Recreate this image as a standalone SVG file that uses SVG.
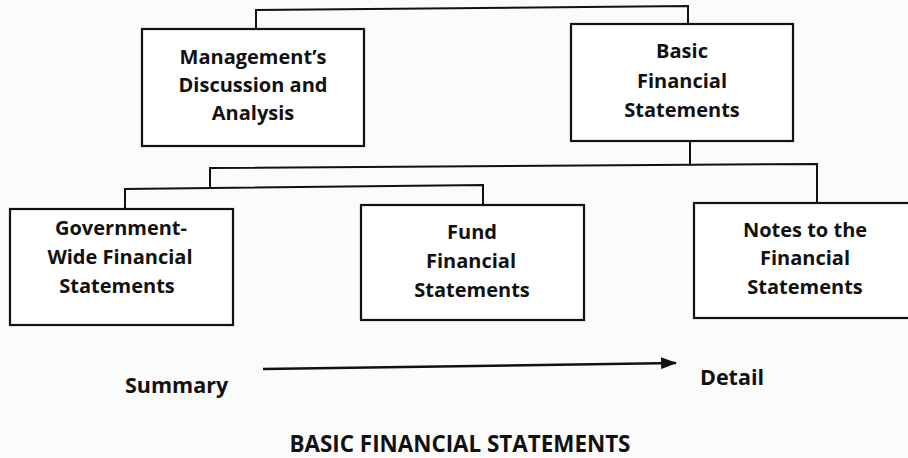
<svg xmlns="http://www.w3.org/2000/svg" width="908" height="458" viewBox="0 0 908 458">
<defs>
<style>
.box{fill:#fff;stroke:#111;stroke-width:2.2}
.ln{fill:none;stroke:#111;stroke-width:2;stroke-linecap:square}
.t{font-family:"Open Sans","Liberation Sans",sans-serif;font-weight:700;fill:#111;text-anchor:middle;font-size:20px}
.lbl{font-family:"Open Sans","Liberation Sans",sans-serif;font-weight:700;fill:#111;font-size:21.5px}
</style>
<marker id="ah" viewBox="0 0 15 11" refX="14" refY="5.5" markerWidth="6.4" markerHeight="4.7" markerUnits="strokeWidth" orient="auto">
<path d="M0,0 L15,5.5 L0,11 z" fill="#111"/>
</marker>
</defs>
<rect width="908" height="458" fill="#fbfbfb"/>
<g id="connectors">
<polyline class="ln" points="256,29 256,10 688,6 688,24"/>
<polyline class="ln" points="690,142 690,165"/>
<polyline class="ln" points="210,188 210,168 817,164 817,203"/>
<polyline class="ln" points="125,209 125,189 483,185 483,205"/>
<line x1="263" y1="369" x2="676" y2="363" stroke="#111" stroke-width="2.5" marker-end="url(#ah)"/>
</g>
<g id="mdna">
<rect class="box" x="142" y="29" width="222" height="117"/>
<text class="t" x="253" y="64">Management’s</text>
<text class="t" x="253" y="92">Discussion and</text>
<text class="t" x="253" y="120">Analysis</text>
</g>
<g id="bfs">
<rect class="box" x="571" y="24" width="222" height="117"/>
<text class="t" x="682" y="58">Basic</text>
<text class="t" x="682" y="88">Financial</text>
<text class="t" x="682" y="117">Statements</text>
</g>
<g id="gwfs">
<rect class="box" x="10" y="209" width="223" height="116"/>
<text class="t" x="121" y="235">Government-</text>
<text class="t" x="120" y="264">Wide Financial</text>
<text class="t" x="117" y="293">Statements</text>
</g>
<g id="ffs">
<rect class="box" x="361" y="205" width="223" height="115"/>
<text class="t" x="472" y="239">Fund</text>
<text class="t" x="471" y="268">Financial</text>
<text class="t" x="472" y="297">Statements</text>
</g>
<g id="notes">
<rect class="box" x="694" y="203" width="230" height="115"/>
<text class="t" x="805" y="237">Notes to the</text>
<text class="t" x="805" y="265">Financial</text>
<text class="t" x="805" y="294">Statements</text>
</g>
<g id="labels">
<text class="lbl" x="125" y="393">Summary</text>
<text class="lbl" x="700" y="385">Detail</text>
<text class="lbl" x="460" y="452" text-anchor="middle" style="font-size:22.4px">BASIC FINANCIAL STATEMENTS</text>
</g>
</svg>
